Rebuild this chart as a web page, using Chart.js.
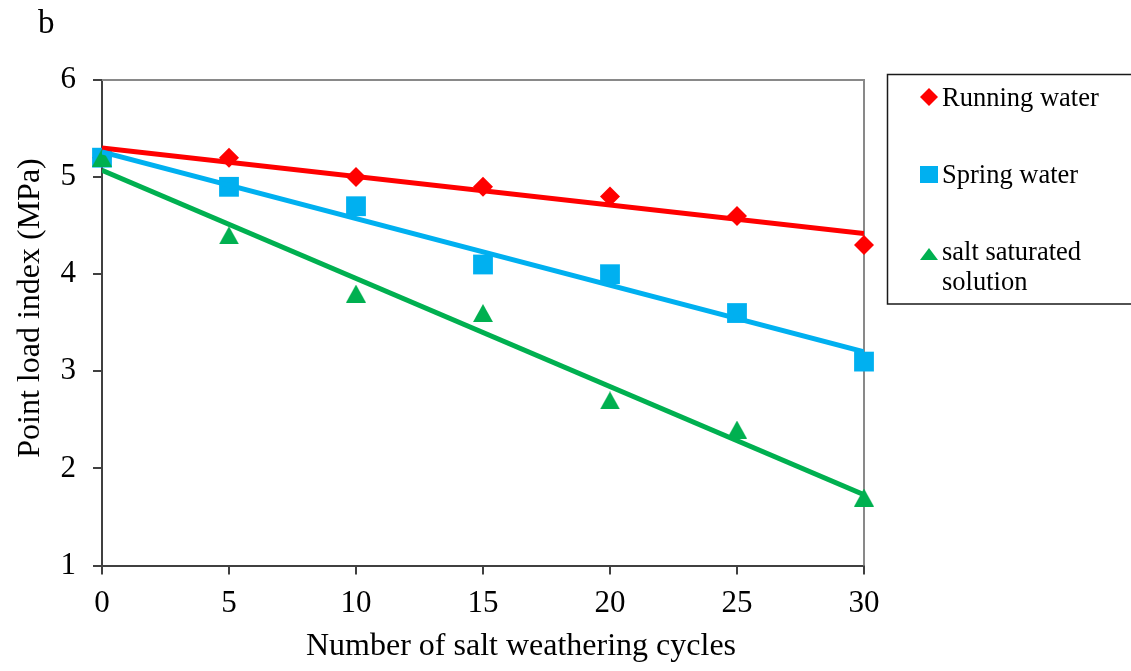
<!DOCTYPE html>
<html>
<head>
<meta charset="utf-8">
<script src="https://cdn.jsdelivr.net/npm/chart.js@4.4.1/dist/chart.umd.min.js"></script>
<style>
  html, body { margin: 0; padding: 0; background: #ffffff; }
  #wrap { width: 1131px; height: 671px; position: relative; }
</style>
</head>
<body>
<div id="wrap"><canvas id="c" width="1131" height="671"></canvas></div>
<script>
// ---- data ----
const cycles = [0, 5, 10, 15, 20, 25, 30];
const runningWater = [5.2, 5.2, 5.0, 4.9, 4.8, 4.6, 4.3];
const springWater = [5.2, 4.9, 4.7, 4.1, 4.0, 3.6, 3.1];
const saltSolution = [5.2, 4.4, 3.8, 3.6, 2.7, 2.4, 1.7];
// trend line end points
const trendX = [0, 30];
const runningTrend = [5.30, 4.42];
const springTrend = [5.26, 3.20];
const saltTrend = [5.07, 1.73];
// tick labels
const xTickValues = [0, 5, 10, 15, 20, 25, 30];
const yTickValues = [1, 2, 3, 4, 5, 6];
const seriesNames = ['Running water', 'Spring water', ['salt saturated', 'solution']];
const xTitle = 'Number of salt weathering cycles';
const yTitle = 'Point load index (MPa)';
const panelLabel = 'b';

const RED = '#FF0000', BLUE = '#00B0F0', GREEN = '#00B050';
const FONT = "'Liberation Serif', 'Times New Roman', serif";

function pts(xs, ys) { return xs.map((x, i) => ({ x: x, y: ys[i] })); }

function triangleImage(w, h, color) {
  const cv = document.createElement('canvas');
  cv.width = w; cv.height = h;
  const g = cv.getContext('2d');
  g.fillStyle = color;
  g.beginPath();
  g.moveTo(w / 2, 0); g.lineTo(w, h); g.lineTo(0, h); g.closePath();
  g.fill();
  return cv;
}
const triImg = triangleImage(20, 18, GREEN);

const framePlugin = {
  id: 'frame',
  beforeDatasetsDraw(chart) {
    const a = chart.chartArea, ctx = chart.ctx;
    ctx.save();
    ctx.strokeStyle = '#898989';
    ctx.lineWidth = 2;
    ctx.beginPath();
    ctx.moveTo(a.left, a.top);
    ctx.lineTo(a.right, a.top);
    ctx.lineTo(a.right, a.bottom);
    ctx.stroke();
    ctx.restore();
  },
  afterDraw(chart) {
    const ctx = chart.ctx;
    ctx.save();
    ctx.fillStyle = '#000';
    // panel label
    ctx.font = '33px ' + FONT;
    ctx.textAlign = 'left';
    ctx.textBaseline = 'alphabetic';
    ctx.fillText(panelLabel, 38, 33);
    // x title
    ctx.font = '32px ' + FONT;
    ctx.textAlign = 'center';
    ctx.fillText(xTitle, 521, 655);
    // y title
    ctx.save();
    ctx.translate(39, 308);
    ctx.rotate(-Math.PI / 2);
    ctx.fillText(yTitle, 0, 0);
    ctx.restore();

    // legend box
    ctx.strokeStyle = '#1a1a1a';
    ctx.lineWidth = 1.5;
    ctx.beginPath();
    ctx.moveTo(1135, 74.5);
    ctx.lineTo(887.5, 74.5);
    ctx.lineTo(887.5, 304);
    ctx.lineTo(1135, 304);
    ctx.stroke();

    const mx = 929;
    // diamond
    ctx.fillStyle = RED;
    ctx.beginPath();
    ctx.moveTo(mx, 88); ctx.lineTo(mx + 9, 97); ctx.lineTo(mx, 106); ctx.lineTo(mx - 9, 97);
    ctx.closePath(); ctx.fill();
    // square
    ctx.fillStyle = BLUE;
    ctx.fillRect(mx - 9, 166, 18, 17);
    // triangle
    ctx.fillStyle = GREEN;
    ctx.beginPath();
    ctx.moveTo(mx, 248); ctx.lineTo(mx + 9, 260); ctx.lineTo(mx - 9, 260);
    ctx.closePath(); ctx.fill();

    ctx.fillStyle = '#000';
    ctx.font = '26.5px ' + FONT;
    ctx.textAlign = 'left';
    ctx.fillText(seriesNames[0], 942, 106);
    ctx.fillText(seriesNames[1], 942, 183);
    ctx.fillText(seriesNames[2][0], 942, 260);
    ctx.fillText(seriesNames[2][1], 942, 290);
    ctx.restore();
  }
};

new Chart(document.getElementById('c'), {
  type: 'scatter',
  data: {
    datasets: [
      { label: seriesNames[0], data: pts(cycles, runningWater), pointStyle: 'rectRot', pointRadius: 10,
        backgroundColor: RED, borderColor: RED, borderWidth: 0, order: 6, clip: false },
      { label: seriesNames[1], data: pts(cycles, springWater), pointStyle: 'rect', pointRadius: 14,
        backgroundColor: BLUE, borderColor: BLUE, borderWidth: 0, order: 5, clip: false },
      { label: 'salt saturated solution', data: pts(cycles, saltSolution), pointStyle: triImg, pointRadius: 10,
        backgroundColor: GREEN, borderColor: GREEN, borderWidth: 0, order: 4, clip: false },
      { type: 'line', label: 'trend running', data: pts(trendX, runningTrend), borderColor: RED, borderWidth: 5,
        pointRadius: 0, fill: false, order: 3 },
      { type: 'line', label: 'trend spring', data: pts(trendX, springTrend), borderColor: BLUE, borderWidth: 5,
        pointRadius: 0, fill: false, order: 2 },
      { type: 'line', label: 'trend salt', data: pts(trendX, saltTrend), borderColor: GREEN, borderWidth: 5,
        pointRadius: 0, fill: false, order: 1 }
    ]
  },
  options: {
    responsive: false,
    animation: false,
    events: [],
    devicePixelRatio: 1,
    layout: { padding: { top: 80, right: 267, left: 0, bottom: 0 } },
    plugins: { legend: { display: false }, tooltip: { enabled: false } },
    scales: {
      x: {
        type: 'linear', min: 0, max: 30,
        afterBuildTicks(s) { s.ticks = xTickValues.map(v => ({ value: v })); },
        afterFit(s) { s.height = 105.5; },
        grid: { display: true, drawOnChartArea: false, drawTicks: true, tickLength: 9, color: '#404040', lineWidth: 2 },
        border: { display: true, color: '#404040', width: 2 },
        ticks: { color: '#000', padding: 11, font: { family: FONT, size: 31 } }
      },
      y: {
        type: 'linear', min: 1, max: 6,
        afterBuildTicks(s) { s.ticks = yTickValues.map(v => ({ value: v })); },
        afterFit(s) { s.width = 102; },
        grid: { display: true, drawOnChartArea: false, drawTicks: true, tickLength: 9, color: '#404040', lineWidth: 2 },
        border: { display: true, color: '#404040', width: 2 },
        ticks: { color: '#000', padding: 17, font: { family: FONT, size: 31 } }
      }
    }
  },
  plugins: [framePlugin]
});
</script>
</body>
</html>
